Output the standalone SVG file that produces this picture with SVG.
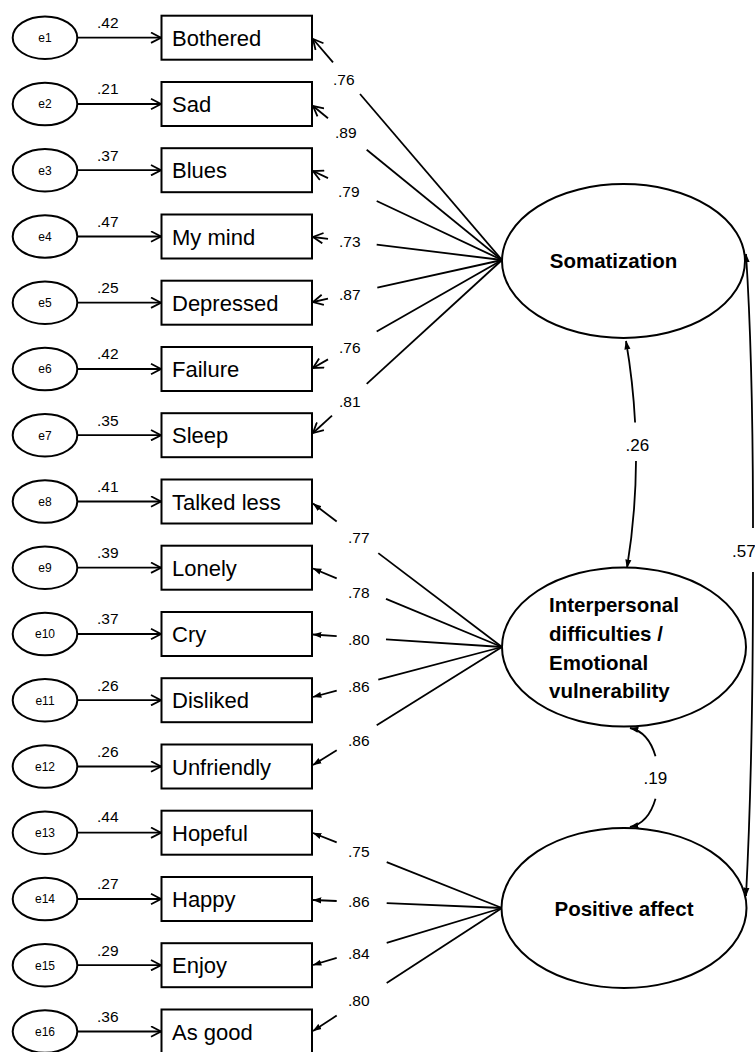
<svg xmlns="http://www.w3.org/2000/svg" width="755" height="1052" viewBox="0 0 755 1052">
<style>
.box{fill:#fff;stroke:#000;stroke-width:2}
.err{fill:#fff;stroke:#000;stroke-width:2}
.lat{fill:#fff;stroke:#000;stroke-width:2}
.ln{fill:none;stroke:#000;stroke-width:1.8}
.bl{font-family:"Liberation Sans",Arial,sans-serif;font-size:22px;fill:#000}
.el{font-family:"Liberation Sans",Arial,sans-serif;font-size:12px;fill:#000;text-anchor:middle}
.num{font-family:"Liberation Sans",Arial,sans-serif;font-size:15.5px;fill:#000}
.cor{font-family:"Liberation Sans",Arial,sans-serif;font-size:17px;fill:#000}
.lt{font-family:"Liberation Sans",Arial,sans-serif;font-size:20.5px;font-weight:bold;fill:#000}
.ea{marker-end:url(#open)}
.fa{marker-end:url(#fill)}
</style>
<defs>
<marker id="open" viewBox="0 0 12 12" refX="11" refY="6" markerWidth="12" markerHeight="12" markerUnits="userSpaceOnUse" orient="auto">
<path d="M1,0.8 L11,6 L1,11.2" fill="none" stroke="#000" stroke-width="1.8"/>
</marker>
<marker id="fill" viewBox="0 0 10 8" refX="9.5" refY="4" markerWidth="9" markerHeight="7" markerUnits="userSpaceOnUse" orient="auto-start-reverse">
<path d="M0,0.5 L10,4 L0,7.5 z" fill="#000"/>
</marker>
</defs>
<rect width="755" height="1052" fill="#fff"/>

<g id="connectors">
<line class="ln ea" x1="77" y1="37.7" x2="161" y2="37.7"/>
<line class="ln ea" x1="77" y1="104" x2="161" y2="104"/>
<line class="ln ea" x1="77" y1="170.2" x2="161" y2="170.2"/>
<line class="ln ea" x1="77" y1="236.5" x2="161" y2="236.5"/>
<line class="ln ea" x1="77" y1="302.7" x2="161" y2="302.7"/>
<line class="ln ea" x1="77" y1="369" x2="161" y2="369"/>
<line class="ln ea" x1="77" y1="435.2" x2="161" y2="435.2"/>
<line class="ln ea" x1="77" y1="501.5" x2="161" y2="501.5"/>
<line class="ln ea" x1="77" y1="567.7" x2="161" y2="567.7"/>
<line class="ln ea" x1="77" y1="634" x2="161" y2="634"/>
<line class="ln ea" x1="77" y1="700.2" x2="161" y2="700.2"/>
<line class="ln ea" x1="77" y1="766.5" x2="161" y2="766.5"/>
<line class="ln ea" x1="77" y1="832.7" x2="161" y2="832.7"/>
<line class="ln ea" x1="77" y1="899" x2="161" y2="899"/>
<line class="ln ea" x1="77" y1="965.2" x2="161" y2="965.2"/>
<line class="ln ea" x1="77" y1="1031.5" x2="161" y2="1031.5"/>

<line class="ln" x1="502" y1="260" x2="360" y2="94"/>
<line class="ln ea" x1="333" y1="62.4" x2="313" y2="39"/>
<line class="ln" x1="502" y1="260" x2="366.7" y2="149.7"/>
<line class="ln ea" x1="328" y1="118.2" x2="313" y2="106"/>
<line class="ln" x1="502" y1="260" x2="376.7" y2="201"/>
<line class="ln ea" x1="328" y1="178.1" x2="313" y2="171"/>
<line class="ln" x1="502" y1="260" x2="376.7" y2="244.7"/>
<line class="ln ea" x1="328" y1="238.8" x2="313" y2="237"/>
<line class="ln" x1="502" y1="260" x2="377.3" y2="287.7"/>
<line class="ln ea" x1="328" y1="298.7" x2="313" y2="302"/>
<line class="ln" x1="502" y1="260" x2="376.7" y2="331.5"/>
<line class="ln ea" x1="328" y1="359.4" x2="313" y2="368"/>
<line class="ln" x1="502" y1="260" x2="366.7" y2="383.8"/>
<line class="ln ea" x1="332" y1="415.6" x2="313" y2="433"/>

<line class="ln" x1="502" y1="647" x2="378.3" y2="553.1"/>
<line class="ln fa" x1="336.7" y1="521.5" x2="313" y2="503.5"/>
<line class="ln" x1="502" y1="647" x2="386" y2="598.9"/>
<line class="ln fa" x1="336.7" y1="578.3" x2="313" y2="568.5"/>
<line class="ln" x1="502" y1="647" x2="386" y2="639.3"/>
<line class="ln fa" x1="336.7" y1="636.1" x2="313" y2="634.5"/>
<line class="ln" x1="502" y1="647" x2="378.3" y2="679.7"/>
<line class="ln fa" x1="336.7" y1="690.7" x2="313" y2="697"/>
<line class="ln" x1="502" y1="647" x2="376.7" y2="725.2"/>
<line class="ln fa" x1="336.7" y1="750.2" x2="313" y2="765"/>

<line class="ln" x1="502" y1="908" x2="386.7" y2="862.2"/>
<line class="ln fa" x1="336.7" y1="842.4" x2="313" y2="833"/>
<line class="ln" x1="502" y1="908" x2="386.7" y2="903.1"/>
<line class="ln fa" x1="336.7" y1="901" x2="313" y2="900"/>
<line class="ln" x1="502" y1="908" x2="386.7" y2="942.8"/>
<line class="ln fa" x1="336.7" y1="957.9" x2="313" y2="965"/>
<line class="ln" x1="502" y1="908" x2="386.7" y2="983.1"/>
<line class="ln fa" x1="336.7" y1="1015.6" x2="313" y2="1031"/>

<path class="ln" marker-start="url(#fill)" d="M626,341 Q633,381.7 635.1,422.5"/>
<path class="ln fa" d="M636,461.1 Q635.7,514.4 627,568"/>
<path class="ln" marker-start="url(#fill)" d="M630,728 C642.9,730.7 651.4,742.1 655.5,756.3"/>
<path class="ln fa" d="M655.5,798.7 C651.4,812.9 642.9,824.3 630,827"/>
<path class="ln" marker-start="url(#fill)" d="M746,254 C751,330 753,430 753,528"/>
<path class="ln fa" d="M753,572 C753,680 751,800 746,896"/>

<g class="num">
<text x="97" y="28">.42</text>
<text x="97" y="94.3">.21</text>
<text x="97" y="160.5">.37</text>
<text x="97" y="226.8">.47</text>
<text x="97" y="293">.25</text>
<text x="97" y="359.3">.42</text>
<text x="97" y="425.5">.35</text>
<text x="97" y="491.8">.41</text>
<text x="97" y="558">.39</text>
<text x="97" y="624.3">.37</text>
<text x="97" y="690.5">.26</text>
<text x="97" y="756.8">.26</text>
<text x="97" y="822">.44</text>
<text x="97" y="889.3">.27</text>
<text x="97" y="955.5">.29</text>
<text x="97" y="1021.8">.36</text>

<text x="333" y="85">.76</text>
<text x="335" y="138">.89</text>
<text x="338" y="197">.79</text>
<text x="339" y="247">.73</text>
<text x="339" y="300">.87</text>
<text x="339" y="353">.76</text>
<text x="339" y="407">.81</text>

<text x="348" y="543">.77</text>
<text x="348" y="598">.78</text>
<text x="348" y="645">.80</text>
<text x="348" y="692">.86</text>
<text x="348" y="746">.86</text>

<text x="348" y="857">.75</text>
<text x="348" y="907">.86</text>
<text x="348" y="959">.84</text>
<text x="348" y="1006">.80</text>
</g>
<g class="cor">
<text x="625.5" y="450.7">.26</text>
<text x="643.5" y="784">.19</text>
<text x="732" y="557">.57</text>
</g>
</g>

<g id="e1"><ellipse class="err" cx="45" cy="37.7" rx="32.3" ry="21.3"/><text class="el" x="45" y="42">e1</text></g>
<g id="e2"><ellipse class="err" cx="45" cy="104" rx="32.3" ry="21.3"/><text class="el" x="45" y="108.3">e2</text></g>
<g id="e3"><ellipse class="err" cx="45" cy="170.2" rx="32.3" ry="21.3"/><text class="el" x="45" y="174.5">e3</text></g>
<g id="e4"><ellipse class="err" cx="45" cy="236.5" rx="32.3" ry="21.3"/><text class="el" x="45" y="240.8">e4</text></g>
<g id="e5"><ellipse class="err" cx="45" cy="302.7" rx="32.3" ry="21.3"/><text class="el" x="45" y="307">e5</text></g>
<g id="e6"><ellipse class="err" cx="45" cy="369" rx="32.3" ry="21.3"/><text class="el" x="45" y="373.3">e6</text></g>
<g id="e7"><ellipse class="err" cx="45" cy="435.2" rx="32.3" ry="21.3"/><text class="el" x="45" y="439.5">e7</text></g>
<g id="e8"><ellipse class="err" cx="45" cy="501.5" rx="32.3" ry="21.3"/><text class="el" x="45" y="505.8">e8</text></g>
<g id="e9"><ellipse class="err" cx="45" cy="567.7" rx="32.3" ry="21.3"/><text class="el" x="45" y="572">e9</text></g>
<g id="e10"><ellipse class="err" cx="45" cy="634" rx="32.3" ry="21.3"/><text class="el" x="45" y="638.3">e10</text></g>
<g id="e11"><ellipse class="err" cx="45" cy="700.2" rx="32.3" ry="21.3"/><text class="el" x="45" y="704.5">e11</text></g>
<g id="e12"><ellipse class="err" cx="45" cy="766.5" rx="32.3" ry="21.3"/><text class="el" x="45" y="770.8">e12</text></g>
<g id="e13"><ellipse class="err" cx="45" cy="832.7" rx="32.3" ry="21.3"/><text class="el" x="45" y="837">e13</text></g>
<g id="e14"><ellipse class="err" cx="45" cy="899" rx="32.3" ry="21.3"/><text class="el" x="45" y="903.3">e14</text></g>
<g id="e15"><ellipse class="err" cx="45" cy="965.2" rx="32.3" ry="21.3"/><text class="el" x="45" y="969.5">e15</text></g>
<g id="e16"><ellipse class="err" cx="45" cy="1031.5" rx="32.3" ry="21.3"/><text class="el" x="45" y="1035.8">e16</text></g>

<g id="bothered"><rect class="box" x="161.5" y="15.7" width="150.5" height="44"/><text class="bl" x="172" y="45.7">Bothered</text></g>
<g id="sad"><rect class="box" x="161.5" y="82" width="150.5" height="44"/><text class="bl" x="172" y="112">Sad</text></g>
<g id="blues"><rect class="box" x="161.5" y="148.2" width="150.5" height="44"/><text class="bl" x="172" y="178.2">Blues</text></g>
<g id="mymind"><rect class="box" x="161.5" y="214.5" width="150.5" height="44"/><text class="bl" x="172" y="244.5">My mind</text></g>
<g id="depressed"><rect class="box" x="161.5" y="280.7" width="150.5" height="44"/><text class="bl" x="172" y="310.7">Depressed</text></g>
<g id="failure"><rect class="box" x="161.5" y="347" width="150.5" height="44"/><text class="bl" x="172" y="377">Failure</text></g>
<g id="sleep"><rect class="box" x="161.5" y="413.2" width="150.5" height="44"/><text class="bl" x="172" y="443.2">Sleep</text></g>
<g id="talkedless"><rect class="box" x="161.5" y="479.5" width="150.5" height="44"/><text class="bl" x="172" y="509.5">Talked less</text></g>
<g id="lonely"><rect class="box" x="161.5" y="545.7" width="150.5" height="44"/><text class="bl" x="172" y="575.7">Lonely</text></g>
<g id="cry"><rect class="box" x="161.5" y="612" width="150.5" height="44"/><text class="bl" x="172" y="642">Cry</text></g>
<g id="disliked"><rect class="box" x="161.5" y="678.2" width="150.5" height="44"/><text class="bl" x="172" y="708.2">Disliked</text></g>
<g id="unfriendly"><rect class="box" x="161.5" y="744.5" width="150.5" height="44"/><text class="bl" x="172" y="774.5">Unfriendly</text></g>
<g id="hopeful"><rect class="box" x="161.5" y="810.7" width="150.5" height="44"/><text class="bl" x="172" y="840.7">Hopeful</text></g>
<g id="happy"><rect class="box" x="161.5" y="877" width="150.5" height="44"/><text class="bl" x="172" y="907">Happy</text></g>
<g id="enjoy"><rect class="box" x="161.5" y="943.2" width="150.5" height="44"/><text class="bl" x="172" y="973.2">Enjoy</text></g>
<g id="asgood"><rect class="box" x="161.5" y="1009.5" width="150.5" height="44"/><text class="bl" x="172" y="1039.5">As good</text></g>

<g id="somatization"><ellipse class="lat" cx="623.5" cy="261" rx="121.5" ry="77"/><text class="lt" x="613.5" y="268" text-anchor="middle">Somatization</text></g>
<g id="interpersonal"><ellipse class="lat" cx="624" cy="647" rx="122" ry="79.5"/>
<text class="lt" x="549" y="612">Interpersonal</text>
<text class="lt" x="549" y="641">difficulties /</text>
<text class="lt" x="549" y="670">Emotional</text>
<text class="lt" x="549" y="698">vulnerability</text>
</g>
<g id="positiveaffect"><ellipse class="lat" cx="624" cy="908" rx="122.5" ry="80"/><text class="lt" x="624" y="916" text-anchor="middle">Positive affect</text></g>
</svg>
